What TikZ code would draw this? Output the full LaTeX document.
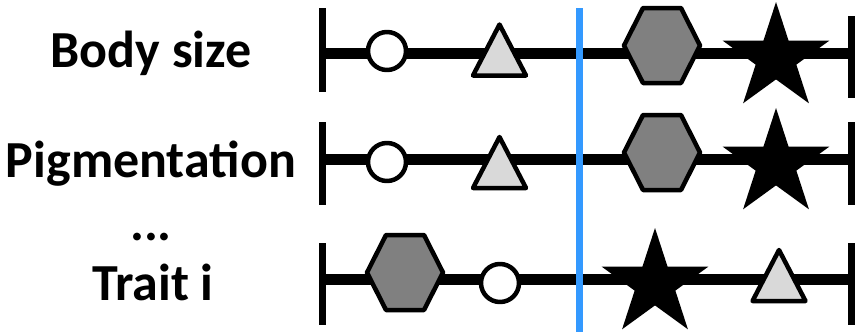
\documentclass[tikz,border=0pt]{standalone}
\usepackage{fontspec}
\setmainfont{Carlito}
\definecolor{hexgray}{HTML}{808080}
\definecolor{trigray}{HTML}{D9D9D9}
\definecolor{splitblue}{HTML}{3399FF}
\tikzset{
  axisline/.style={line width=11pt},
  endtick/.style={line width=7pt},
  splitline/.style={line width=7pt, splitblue},
  trait/.style={font=\bfseries\fontsize{52}{52}\selectfont, anchor=base, inner sep=0pt},
  markline/.style={line width=4.5pt, line join=round, draw=black},
  circmark/.pic={\path[markline, fill=white] (0,0) circle[radius=19pt];},
  trimark/.pic={\path[markline, fill=trigray] (0,-25.5) -- (26.5,25.5) -- (-26.5,25.5) -- cycle;},
  hexmark/.pic={\path[markline, fill=hexgray] (-38,0) -- (-19,-37.5) -- (19,-37.5) -- (38,0) -- (19,37.5) -- (-19,37.5) -- cycle;},
  starmark/.pic={\fill (90:56pt) -- (126:21.4pt) -- (162:56pt) -- (198:21.4pt) -- (234:56pt)
      -- (270:21.4pt) -- (306:56pt) -- (342:21.4pt) -- (18:56pt) -- (54:21.4pt) -- cycle;},
}
\begin{document}
\begin{tikzpicture}[x=1pt, y=-1pt]
\useasboundingbox (0,0) rectangle (865,332);

% trait labels
\node[trait] (lab1) at (151,67) {Body size};
\node[trait] (lab2) at (151,177) {Pigmentation};
\node[trait] (labdots) at (151,240) {...};
\node[trait] (lab3) at (153,300) {Trait i};

% axis ends
\coordinate (L1) at (322,53);  \coordinate (R1) at (851,53);
\coordinate (L2) at (322,159); \coordinate (R2) at (851,159);
\coordinate (L3) at (322,279); \coordinate (R3) at (851,279);

% axes with end ticks
\draw[axisline] (L1) -- (R1);
\draw[axisline] (L2) -- (R2);
\draw[axisline] (L3) -- (R3);
\draw[endtick] (322,8) -- (322,92);
\draw[endtick] (851,16) -- (851,98);
\draw[endtick] (322,122) -- (322,205);
\draw[endtick] (851,122) -- (851,205);
\draw[endtick] (322,243) -- (322,325);
\draw[endtick] (851,243) -- (851,325);

% threshold line
\coordinate (Btop) at (579,8);
\coordinate (Bbot) at (579,332);
\draw[splitline] (Btop) -- (Bbot);

% markers, row 1
\pic at (387,51) {circmark};
\pic at (499.5,50) {trimark};
\pic at (662,45.5) {hexmark};
\pic at (776,58) {starmark};

% markers, row 2
\pic at (387,162) {circmark};
\pic at (499.5,162.5) {trimark};
\pic at (662,152.5) {hexmark};
\pic at (776,164) {starmark};

% markers, row 3
\pic at (405,272.5) {hexmark};
\pic at (500,283) {circmark};
\pic at (655,284) {starmark};
\pic at (779,275.5) {trimark};
\end{tikzpicture}
\end{document}
